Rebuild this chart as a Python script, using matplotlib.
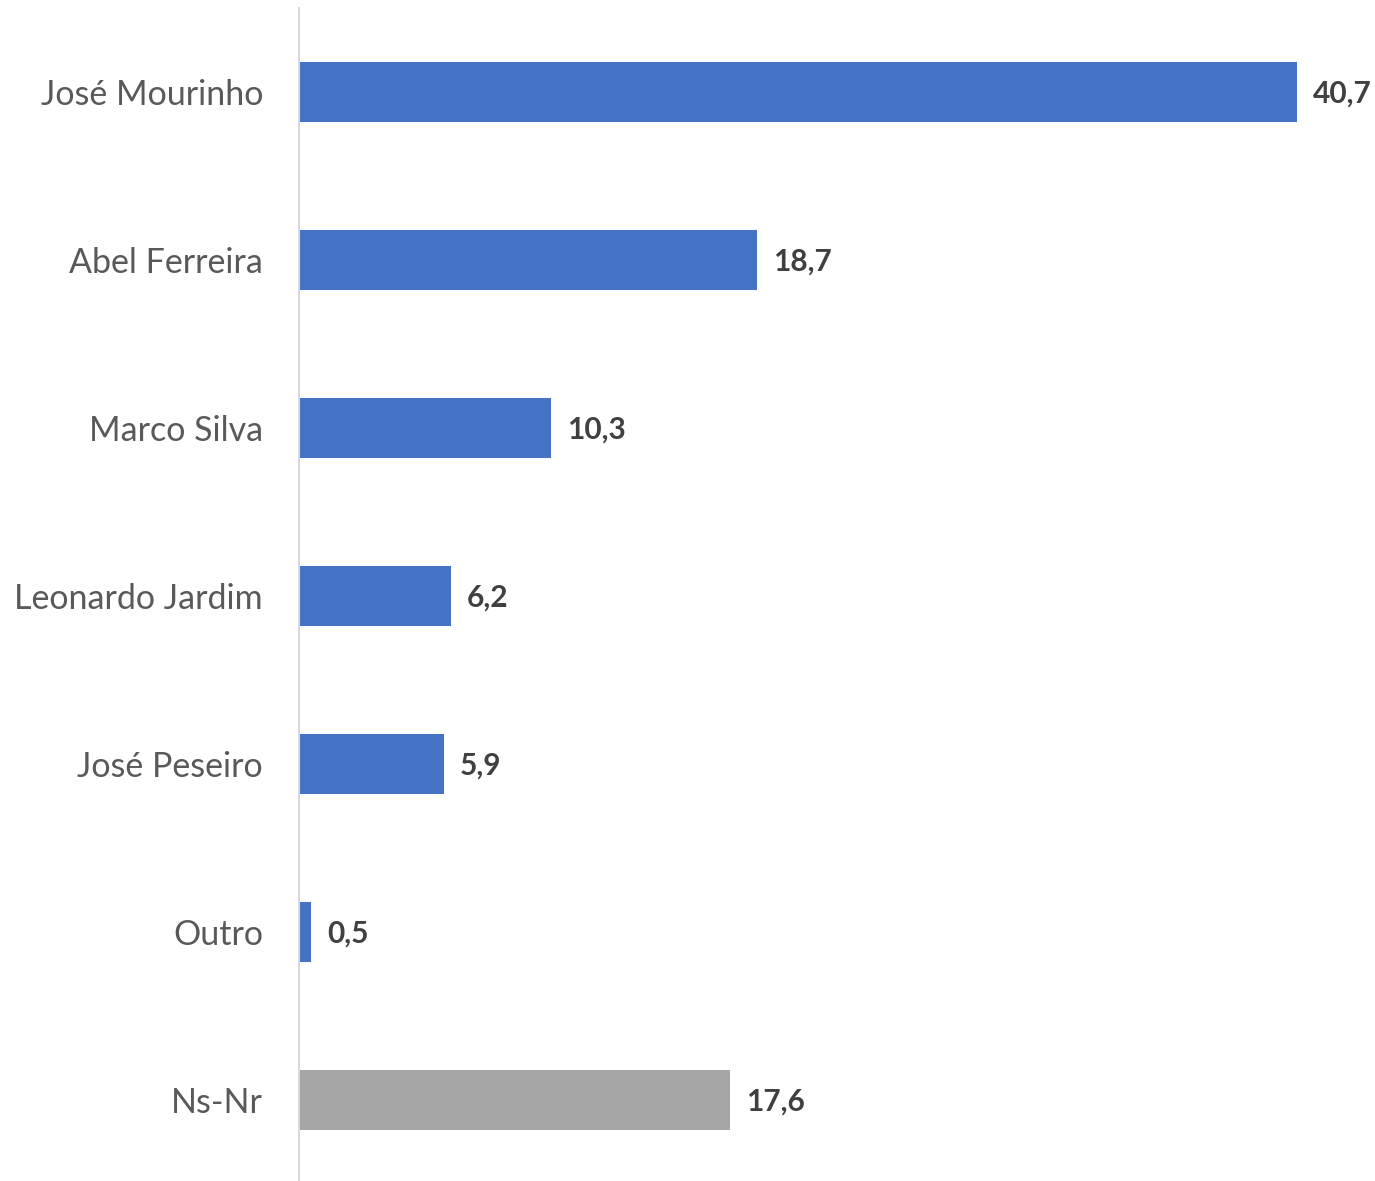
import matplotlib.pyplot as plt

names = ['José Mourinho', 'Abel Ferreira', 'Marco Silva', 'Leonardo Jardim',
         'José Peseiro', 'Outro', 'Ns-Nr']
values = [40.7, 18.7, 10.3, 6.2, 5.9, 0.5, 17.6]
colors = ['#4472C4'] * 6 + ['#A5A5A5']

plt.rcParams['font.family'] = ['Lato', 'DejaVu Sans']

fig = plt.figure(figsize=(13.75, 11.81), dpi=100)
# plot area placed in figure pixels
W, H = 1375, 1181
ax = fig.add_axes([299 / W, -3 / H, 1054 / W, 1176 / H])

ypos = list(range(len(names)))
ax.barh(ypos, values, height=0.357, color=colors)

for y, v in zip(ypos, values):
    ax.annotate(f'{v:.1f}'.replace('.', ','), (v, y), xytext=(16, -2),
                textcoords='offset pixels', ha='left', va='center',
                fontsize=21.5, fontweight='bold', color='#404040')

ax.set_xlim(0, 43)
ax.set_ylim(len(names) - 0.5, -0.5)
ax.set_yticks(ypos)
ax.set_yticklabels(names, fontsize=24.5, color='#595959')
ax.tick_params(axis='y', length=0, pad=26)
ax.set_xticks([])

for side in ['top', 'right', 'bottom']:
    ax.spines[side].set_visible(False)
ax.spines['left'].set_color('#D9D9D9')
ax.spines['left'].set_linewidth(1.5)

fig.savefig('out.png', dpi=100)
